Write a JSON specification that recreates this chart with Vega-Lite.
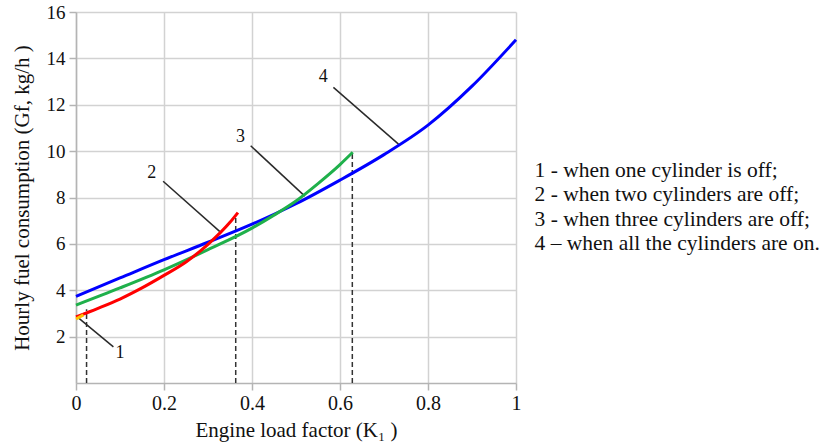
{
  "$schema": "https://vega.github.io/schema/vega-lite/v6.json",
  "width": 440,
  "height": 371,
  "autosize": "none",
  "padding": {"left": 76, "top": 12, "right": 310, "bottom": 65},
  "background": "white",
  "config": {
    "font": "Liberation Serif",
    "view": {"stroke": null},
    "axis": {
      "grid": true,
      "gridColor": "#d2d2d2",
      "gridWidth": 1.5,
      "domainColor": "#b4b4b4",
      "domainWidth": 1.5,
      "tickColor": "#b4b4b4",
      "tickWidth": 1.5,
      "tickSize": 7,
      "labelColor": "#111111",
      "labelFont": "Liberation Serif",
      "labelFontSize": 20,
      "labelFlush": false,
      "titleFont": "Liberation Serif",
      "titleFontSize": 21,
      "titleFontWeight": "normal",
      "titleColor": "#111111"
    }
  },
  "encoding": {
    "x": {
      "field": "x",
      "type": "quantitative",
      "scale": {"domain": [0, 1], "nice": false},
      "axis": {
        "values": [0, 0.2, 0.4, 0.6, 0.8, 1],
        "format": "~g",
        "title": "Engine load factor (K₁ )",
        "labelPadding": 3,
        "titlePadding": 6
      }
    },
    "y": {
      "field": "y",
      "type": "quantitative",
      "scale": {"domain": [0, 16], "nice": false},
      "axis": {
        "values": [2, 4, 6, 8, 10, 12, 14, 16],
        "title": "Hourly fuel consumption (Gf, kg/h )",
        "labelFontSize": 19,
        "labelPadding": 4,
        "titlePadding": 14
      }
    }
  },
  "layer": [
    {
      "data": {
        "values": [
          {"x": 0.024, "y": 0, "y2": 3.18},
          {"x": 0.363, "y": 0, "y2": 7.18},
          {"x": 0.628, "y": 0, "y2": 9.88}
        ]
      },
      "mark": {"type": "rule", "color": "#333333", "strokeWidth": 1.5, "strokeDash": [5, 3]},
      "encoding": {"y2": {"field": "y2"}}
    },
    {
      "data": {
        "values": [
          {"x": 0.002, "y": 2.86, "x2": 0.085, "y2": 1.56},
          {"x": 0.198, "y": 8.7, "x2": 0.327, "y2": 6.53},
          {"x": 0.397, "y": 10.23, "x2": 0.52, "y2": 8.06},
          {"x": 0.585, "y": 12.75, "x2": 0.733, "y2": 10.3}
        ]
      },
      "mark": {"type": "rule", "color": "#2a2a2a", "strokeWidth": 1.5},
      "encoding": {"x2": {"field": "x2"}, "y2": {"field": "y2"}}
    },
    {
      "data": {
        "values": [
          {"s": "4 – when all the cylinders are on.", "x": 0, "y": 3.74},
          {"s": "4 – when all the cylinders are on.", "x": 0.1, "y": 4.53},
          {"s": "4 – when all the cylinders are on.", "x": 0.2, "y": 5.32},
          {"s": "4 – when all the cylinders are on.", "x": 0.3, "y": 6.07},
          {"s": "4 – when all the cylinders are on.", "x": 0.4, "y": 6.85},
          {"s": "4 – when all the cylinders are on.", "x": 0.5, "y": 7.73},
          {"s": "4 – when all the cylinders are on.", "x": 0.6, "y": 8.75},
          {"s": "4 – when all the cylinders are on.", "x": 0.7, "y": 9.85},
          {"s": "4 – when all the cylinders are on.", "x": 0.8, "y": 11.12},
          {"s": "4 – when all the cylinders are on.", "x": 0.9, "y": 12.8},
          {"s": "4 – when all the cylinders are on.", "x": 1.0, "y": 14.8},
          {"s": "3 - when three cylinders are off;", "x": 0, "y": 3.36},
          {"s": "3 - when three cylinders are off;", "x": 0.1, "y": 4.1},
          {"s": "3 - when three cylinders are off;", "x": 0.2, "y": 4.88},
          {"s": "3 - when three cylinders are off;", "x": 0.3, "y": 5.75},
          {"s": "3 - when three cylinders are off;", "x": 0.4, "y": 6.68},
          {"s": "3 - when three cylinders are off;", "x": 0.45, "y": 7.24},
          {"s": "3 - when three cylinders are off;", "x": 0.5, "y": 7.85},
          {"s": "3 - when three cylinders are off;", "x": 0.55, "y": 8.6},
          {"s": "3 - when three cylinders are off;", "x": 0.6, "y": 9.42},
          {"s": "3 - when three cylinders are off;", "x": 0.629, "y": 9.95},
          {"s": "2 - when two cylinders are off;", "x": 0, "y": 2.85},
          {"s": "2 - when two cylinders are off;", "x": 0.05, "y": 3.22},
          {"s": "2 - when two cylinders are off;", "x": 0.1, "y": 3.62},
          {"s": "2 - when two cylinders are off;", "x": 0.15, "y": 4.1},
          {"s": "2 - when two cylinders are off;", "x": 0.2, "y": 4.64},
          {"s": "2 - when two cylinders are off;", "x": 0.25, "y": 5.22},
          {"s": "2 - when two cylinders are off;", "x": 0.3, "y": 5.98},
          {"s": "2 - when two cylinders are off;", "x": 0.35, "y": 6.93},
          {"s": "2 - when two cylinders are off;", "x": 0.368, "y": 7.35},
          {"s": "1 - when one cylinder is off;", "x": 0, "y": 2.76},
          {"s": "1 - when one cylinder is off;", "x": 0.017, "y": 2.94}
        ]
      },
      "mark": {"type": "line", "strokeWidth": 3, "interpolate": "monotone", "clip": false},
      "encoding": {
        "color": {
          "field": "s",
          "type": "nominal",
          "scale": {
            "domain": [
              "1 - when one cylinder is off;",
              "2 - when two cylinders are off;",
              "3 - when three cylinders are off;",
              "4 – when all the cylinders are on."
            ],
            "range": ["#FFC000", "#FF0000", "#1FB04B", "#0000FF"]
          },
          "legend": {
            "title": null,
            "orient": "none",
            "legendX": 437,
            "legendY": 148,
            "padding": 0,
            "symbolSize": 0,
            "symbolStrokeWidth": 0,
            "symbolOpacity": 0,
            "labelOffset": 0,
            "labelFont": "Liberation Serif",
            "labelFontSize": 21.5,
            "labelColor": "#111111",
            "labelLimit": 400,
            "rowPadding": 1.5
          }
        }
      }
    },
    {
      "data": {
        "values": [
          {"t": "1", "x": 0.1, "y": 1.3},
          {"t": "2", "x": 0.172, "y": 9.04},
          {"t": "3", "x": 0.374, "y": 10.62},
          {"t": "4", "x": 0.562, "y": 13.2}
        ]
      },
      "mark": {"type": "text", "font": "Liberation Serif", "fontSize": 18, "color": "#111111"},
      "encoding": {"text": {"field": "t"}}
    }
  ]
}
